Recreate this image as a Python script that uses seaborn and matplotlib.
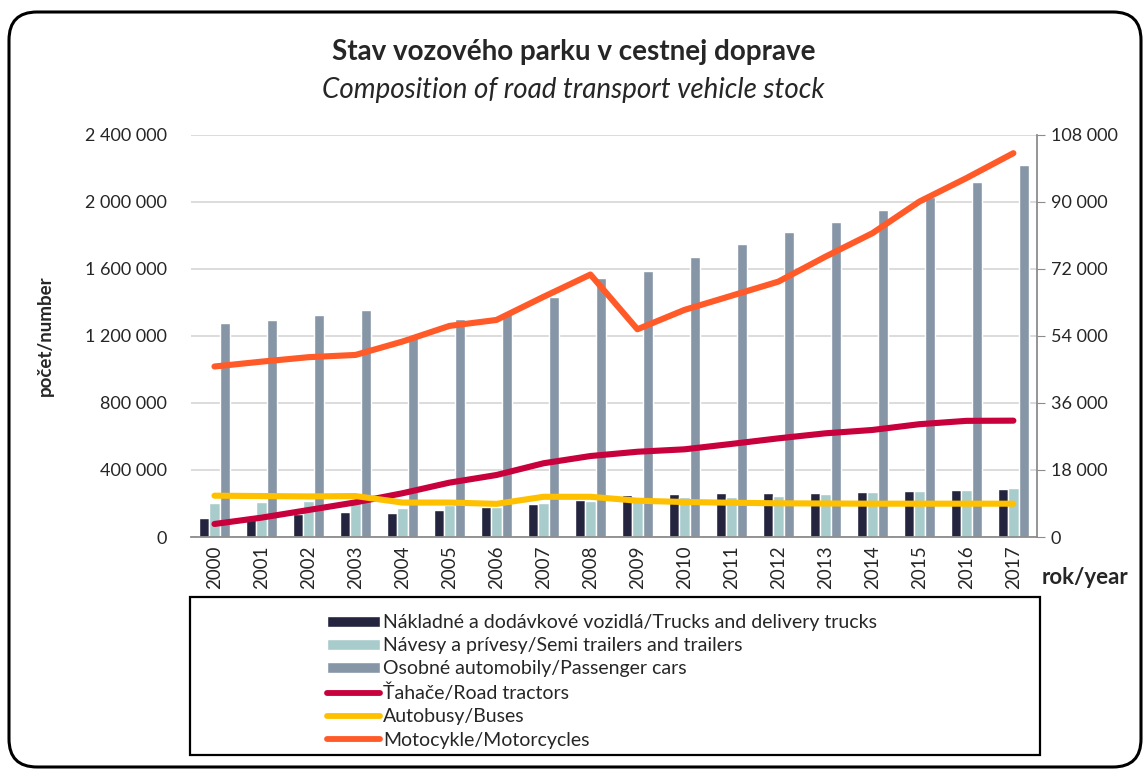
import numpy as np
import pandas as pd
import seaborn as sns
import matplotlib.pyplot as plt
from matplotlib.patches import Patch, FancyBboxPatch, Rectangle
from matplotlib.lines import Line2D
from matplotlib.ticker import FuncFormatter

years = [str(y) for y in range(2000, 2018)]

# bars, left axis (počet)
trucks = [115000, 125000, 135000, 147000, 145000, 163000, 177000, 199000, 223000,
          249000, 255000, 261000, 263000, 264500, 268700, 276000, 282000, 288000]
trailers = [203000, 209000, 217000, 205000, 173000, 189000, 181000, 203000, 217000,
            231000, 237000, 241000, 246500, 257000, 267000, 276000, 282000, 292500]
cars = [1277000, 1293000, 1327000, 1355000, 1200000, 1303000, 1333000, 1434000, 1546000,
        1588000, 1672000, 1747000, 1823000, 1879000, 1950000, 2032000, 2121000, 2223000]

# lines, right axis
tractors = [3500, 5200, 7250, 9300, 11750, 14600, 16650, 19800, 21750,
            22900, 23550, 25000, 26500, 27850, 28750, 30300, 31200, 31250]
buses = [11100, 11000, 10900, 11000, 9250, 9250, 8900, 10800, 10800,
         9750, 9400, 9200, 9050, 9000, 8950, 8950, 8950, 8950]
motorcycles = [45800, 47100, 48300, 48900, 52500, 56700, 58300, 64500, 70500,
               55800, 61000, 64800, 68600, 75300, 81600, 90100, 96400, 103100]

bar_names = ["Nákladné a dodávkové vozidlá/Trucks and delivery trucks",
             "Návesy a prívesy/Semi trailers and trailers",
             "Osobné automobily/Passenger cars"]
line_names = ["Ťahače/Road tractors", "Autobusy/Buses", "Motocykle/Motorcycles"]
bar_colors = ["#24243f", "#a8cccb", "#8796a6"]
line_colors = ["#c8003c", "#ffc000", "#ff5a28"]

sns.set_style("white")
plt.rcParams["font.family"] = ["Lato", "DejaVu Sans"]

bars_df = pd.DataFrame({
    "year": years * 3,
    "value": trucks + trailers + cars,
    "series": [n for n in bar_names for _ in years],
})
pos = np.arange(len(years))
lines_df = pd.DataFrame({
    "pos": np.tile(pos, 3),
    "value": tractors + buses + motorcycles,
    "series": [n for n in line_names for _ in years],
})

fmt = FuncFormatter(lambda v, p: f"{v:,.0f}".replace(",", " "))

fig = plt.figure(figsize=(11.47, 7.71), dpi=100)
ax = fig.add_axes([0.1665, 0.3035, 0.7375, 0.5215])

sns.barplot(data=bars_df, x="year", y="value", hue="series", palette=bar_colors,
            hue_order=bar_names, width=0.66, saturation=1, legend=False, ax=ax, zorder=2)
ax.set_ylim(0, 2400000)
ax.set_yticks(np.arange(0, 2400001, 400000))
ax.yaxis.set_major_formatter(fmt)
ax.grid(axis="y", color="#d9d9d9", lw=1.3, zorder=0)
ax.set_axisbelow(True)
ax.set_xlabel("")
ax.set_ylabel("počet/number", fontsize=13.5, fontweight="bold", labelpad=23)
ax.tick_params(axis="x", labelrotation=90, labelsize=13.5, length=0, pad=6)
ax.tick_params(axis="y", labelsize=13, length=0, pad=17)
for s in ["left", "top", "right"]:
    ax.spines[s].set_visible(False)
ax.spines["bottom"].set_color("#8c8c8c")
ax.spines["bottom"].set_linewidth(1.3)

ax2 = ax.twinx()
sns.lineplot(data=lines_df, x="pos", y="value", hue="series", palette=line_colors,
             hue_order=line_names, lw=4.4, sort=False, legend=False, ax=ax2,
             solid_capstyle="round")
ax2.set_ylim(0, 108000)
ax2.set_yticks(np.arange(0, 108001, 18000))
ax2.yaxis.set_major_formatter(fmt)
ax2.set_ylabel("")
ax2.tick_params(axis="y", labelsize=13, length=6, color="#8c8c8c", pad=4)
ax2.set_xlim(-0.5, len(years) - 0.5)
ax.set_xlim(-0.5, len(years) - 0.5)
for s in ["left", "top", "bottom"]:
    ax2.spines[s].set_visible(False)
ax2.spines["right"].set_color("#8c8c8c")
ax2.spines["right"].set_linewidth(1.3)

fig.text(0.5, 0.932, "Stav vozového parku v cestnej doprave", ha="center", va="center",
         fontsize=20, fontweight="bold")
fig.text(0.5, 0.883, "Composition of road transport vehicle stock", ha="center",
         va="center", fontsize=20, style="italic")
fig.text(0.946, 0.251, "rok/year", ha="center", va="center", fontsize=16, fontweight="bold")

handles = [Patch(facecolor=c) for c in bar_colors] + \
          [Line2D([], [], color=c, lw=4.2, solid_capstyle="round") for c in line_colors]
fig.legend(handles, bar_names + line_names, loc="upper left",
           bbox_to_anchor=(327 / 1147, 1 - 614 / 771), bbox_transform=fig.transFigure,
           frameon=False, fontsize=14, handlelength=2.75, handleheight=0.5,
           handletextpad=0.15, labelspacing=0.32, borderaxespad=0, borderpad=0)

fig.patches.append(Rectangle((190 / 1147, 16 / 771), 850 / 1147, 158 / 771,
                             transform=fig.transFigure, fill=False, lw=1.6,
                             edgecolor="black", figure=fig))
fig.patches.append(FancyBboxPatch((9, 4), 1132, 755, boxstyle="round,pad=0,rounding_size=28",
                                  transform=None, fill=False, lw=2.2, edgecolor="black",
                                  figure=fig))

fig.savefig("out.png", dpi=100)
